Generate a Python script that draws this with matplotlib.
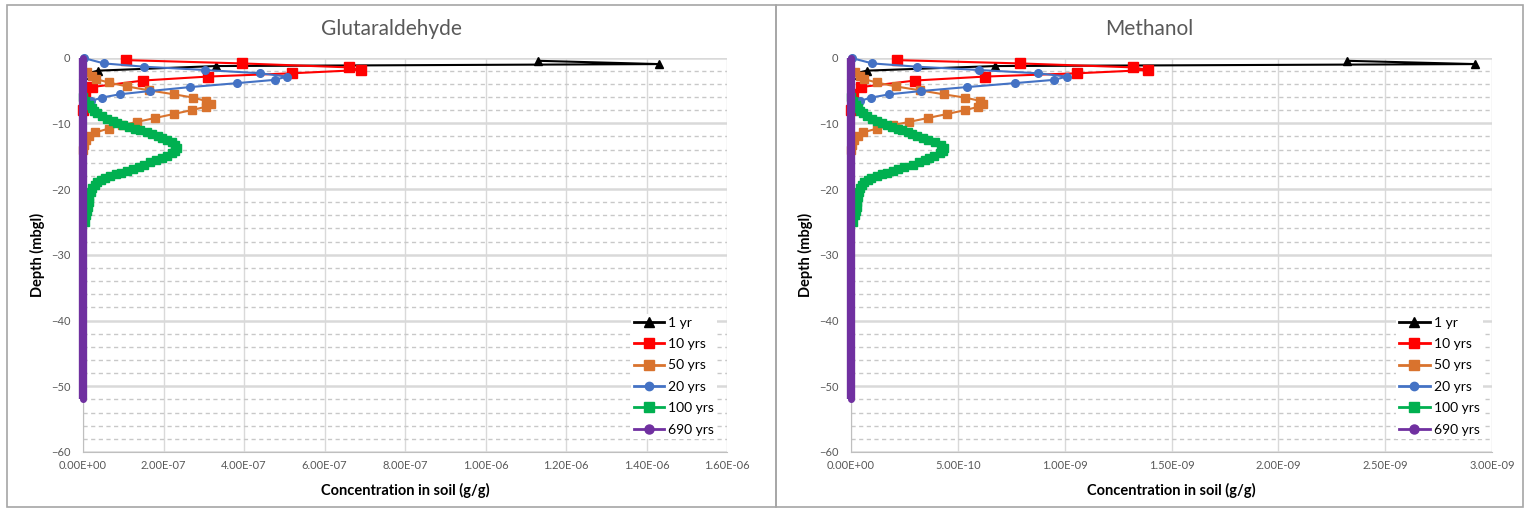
import numpy as np
import matplotlib
matplotlib.use("Agg")
import matplotlib.pyplot as plt
from matplotlib.ticker import MultipleLocator, FuncFormatter
from matplotlib.patches import Rectangle
from matplotlib.lines import Line2D

plt.rcParams['font.family'] = ['Lato', 'DejaVu Sans']

labels = ['1 yr', '10 yrs', '50 yrs', '20 yrs', '100 yrs', '690 yrs']
colors = ['#000000', '#FF0000', '#D9732E', '#4472C4', '#00B050', '#7030A0']
markers = ['^', 's', 's', 'o', 's', 'o']
msizes = [6, 6.5, 6, 5.5, 6, 4]

# depth nodes (m below ground level, negative down)
depth_1 = [-0.5, -1.0, -1.3, -2.0, -2.6]
depth_10 = [-0.4, -0.9, -1.5, -1.9, -2.4, -2.9, -3.5, -4.5, -5.5, -8.0]
depth_50 = [-2.2, -2.8, -3.3, -3.8, -4.4, -5.0, -5.6, -6.1, -6.6, -7.0, -7.5,
            -8.0, -8.6, -9.2, -9.8, -10.3, -10.8, -11.4, -12.0, -12.6, -13.3, -14.0]
depth_20 = [-0.1, -0.9, -1.4, -1.9, -2.4, -2.9, -3.4, -3.9, -4.5, -5.1, -5.6,
            -6.1, -6.6, -7.5]
depth_100 = [-6.0, -6.6, -7.2, -7.7, -8.1, -8.5, -8.9, -9.3, -9.7, -10.0, -10.3,
             -10.6, -10.9, -11.1, -11.4, -11.6, -12.0, -12.3, -12.6, -12.9, -13.3,
             -13.8, -14.2, -14.6, -15.0, -15.3, -15.6, -15.9, -16.3, -16.6, -16.9,
             -17.2, -17.5, -17.7, -18.0, -18.3, -18.7, -19.0, -19.4, -19.9, -20.5,
             -21.2, -22.0, -22.7, -23.4, -24.0, -25.0]
depth_690 = np.arange(0, -52.5, -0.5)

# Glutaraldehyde concentrations (g/g)
glut_1 = [1.13e-6, 1.43e-6, 3.3e-7, 3.7e-8, 0.0]
glut_10 = [1.07e-7, 3.95e-7, 6.6e-7, 6.9e-7, 5.2e-7, 3.1e-7, 1.5e-7, 2.2e-8, 4e-9, 0.0]
glut_50 = [1.0e-8, 2.2e-8, 3.3e-8, 6.4e-8, 1.09e-7, 1.65e-7, 2.26e-7, 2.74e-7,
           3.05e-7, 3.18e-7, 3.05e-7, 2.7e-7, 2.25e-7, 1.79e-7, 1.34e-7, 9.7e-8,
           6.4e-8, 3.1e-8, 1.6e-8, 8e-9, 3e-9, 0.0]
glut_20 = [3e-9, 5.2e-8, 1.52e-7, 3.03e-7, 4.4e-7, 5.07e-7, 4.76e-7, 3.83e-7,
           2.66e-7, 1.66e-7, 9.1e-8, 4.6e-8, 2.1e-8, 0.0]
glut_100 = [1e-9, 6e-9, 1.4e-8, 2.2e-8, 2.8e-8, 3.4e-8, 4.6e-8, 6.0e-8, 7.4e-8,
            8.5e-8, 1.0e-7, 1.14e-7, 1.3e-7, 1.42e-7, 1.58e-7, 1.71e-7, 1.86e-7,
            1.97e-7, 2.09e-7, 2.2e-7, 2.28e-7, 2.33e-7, 2.29e-7, 2.2e-7, 2.08e-7,
            1.96e-7, 1.82e-7, 1.67e-7, 1.52e-7, 1.38e-7, 1.23e-7, 1.09e-7, 9.4e-8,
            8.1e-8, 6.7e-8, 5.4e-8, 4.4e-8, 3.5e-8, 2.9e-8, 2.3e-8, 1.9e-8, 1.6e-8,
            1.4e-8, 1.2e-8, 1e-8, 8e-9, 5e-9]
glut_690 = [0.0] * len(depth_690)

# Methanol concentrations (g/g)
meth_1 = [2.32e-9, 2.92e-9, 6.75e-10, 7.3e-11, 0.0]
meth_10 = [2.15e-10, 7.9e-10, 1.32e-9, 1.39e-9, 1.06e-9, 6.27e-10, 3.0e-10,
           4.6e-11, 8e-12, 0.0]
meth_50 = [2e-11, 4e-11, 6.2e-11, 1.2e-10, 2.09e-10, 3.25e-10, 4.33e-10, 5.34e-10,
           6.04e-10, 6.19e-10, 5.96e-10, 5.34e-10, 4.49e-10, 3.6e-10, 2.71e-10,
           1.95e-10, 1.24e-10, 5.4e-11, 3.3e-11, 1.6e-11, 6e-12, 0.0]
meth_20 = [5e-12, 1.0e-10, 3.1e-10, 6.0e-10, 8.75e-10, 1.01e-9, 9.5e-10, 7.66e-10,
           5.42e-10, 3.28e-10, 1.8e-10, 9.3e-11, 4.3e-11, 0.0]
meth_100 = [2e-12, 1e-11, 2.2e-11, 3.2e-11, 4.2e-11, 5.5e-11, 7.5e-11, 9.8e-11,
            1.22e-10, 1.45e-10, 1.7e-10, 1.92e-10, 2.2e-10, 2.4e-10, 2.65e-10,
            2.85e-10, 3.1e-10, 3.35e-10, 3.6e-10, 3.95e-10, 4.2e-10, 4.33e-10,
            4.3e-10, 4.15e-10, 3.9e-10, 3.65e-10, 3.45e-10, 3.2e-10, 2.9e-10,
            2.5e-10, 2.2e-10, 1.95e-10, 1.7e-10, 1.45e-10, 1.2e-10, 9.5e-11,
            7.8e-11, 6.3e-11, 5.2e-11, 4.3e-11, 3.7e-11, 3.2e-11, 2.9e-11, 2.6e-11,
            2.2e-11, 1.8e-11, 1e-11]
meth_690 = [0.0] * len(depth_690)

depths = [depth_1, depth_10, depth_50, depth_20, depth_100, depth_690]
glut = [glut_1, glut_10, glut_50, glut_20, glut_100, glut_690]
meth = [meth_1, meth_10, meth_50, meth_20, meth_100, meth_690]

fig = plt.figure(figsize=(15.29, 5.16), dpi=100)

W, H = 1529.0, 516.0
# panel borders
for x0, x1 in [(7, 776), (776, 1523)]:
    fig.patches.append(Rectangle((x0 / W, 1 - 507 / H), (x1 - x0) / W, (507 - 5) / H,
                                 transform=fig.transFigure, fill=False,
                                 edgecolor='#a6a6a6', lw=1.2))


def draw(left, right, title, data, xmax, nticks, tcenter):
    ax = fig.add_axes([left / W, 1 - 452 / H, (right - left) / W, (452 - 57.5) / H])
    for i in range(6):
        purple = (i == 5)
        ax.plot(data[i], depths[i], color=colors[i], marker=markers[i],
                markersize=msizes[i], lw=6 if purple else 1.5,
                solid_capstyle='butt', clip_on=False, zorder=3 + i)
    ax.set_xlim(0, xmax)
    ax.set_ylim(-60, 0)
    ax.set_xticks(np.linspace(0, xmax, nticks + 1))
    ax.yaxis.set_major_locator(MultipleLocator(10))
    ax.yaxis.set_minor_locator(MultipleLocator(2))
    ax.xaxis.set_major_formatter(FuncFormatter(lambda v, p: f"{v:.2E}"))
    ax.grid(True, which='major', axis='x', color='#d9d9d9', lw=1)
    ax.grid(True, which='major', axis='y', color='#d9d9d9', lw=1.8)
    ax.grid(True, which='minor', axis='y', color='#c8c8c8', lw=1, ls=(0, (3, 2.5)))
    ax.set_axisbelow(True)
    for s in ['top', 'right']:
        ax.spines[s].set_visible(False)
    for s in ['left', 'bottom']:
        ax.spines[s].set_color('#bfbfbf')
    ax.tick_params(which='both', length=0, labelsize=8, labelcolor='#595959')
    ax.tick_params(axis='x', pad=6)
    ax.tick_params(axis='y', pad=9)
    ax.set_xlabel('Concentration in soil (g/g)', fontsize=10.5, fontweight='bold',
                  labelpad=8)
    ax.set_ylabel('Depth (mbgl)', fontsize=10.5, fontweight='bold', labelpad=4)
    fig.text(tcenter / W, 1 - 29 / H, title, ha='center', va='center',
             fontsize=15, color='#595959')
    handles = [Line2D([], [], color=colors[i], marker=markers[i],
                      markersize=6.5 if i == 5 else msizes[i] + 0.5, lw=2)
               for i in range(6)]
    ax.legend(handles, labels, loc='upper left', bbox_to_anchor=(0.84, 0.368),
              fontsize=10, frameon=True, fancybox=False, edgecolor='none',
              facecolor='white', framealpha=1, handlelength=2.2,
              handletextpad=0.3, labelspacing=0.68, borderpad=0.2, numpoints=1)
    return ax


draw(83, 727, 'Glutaraldehyde', glut, 1.6e-6, 8, 391)
draw(851, 1492, 'Methanol', meth, 3.0e-9, 6, 1149)

fig.savefig('out.png', dpi=100)
